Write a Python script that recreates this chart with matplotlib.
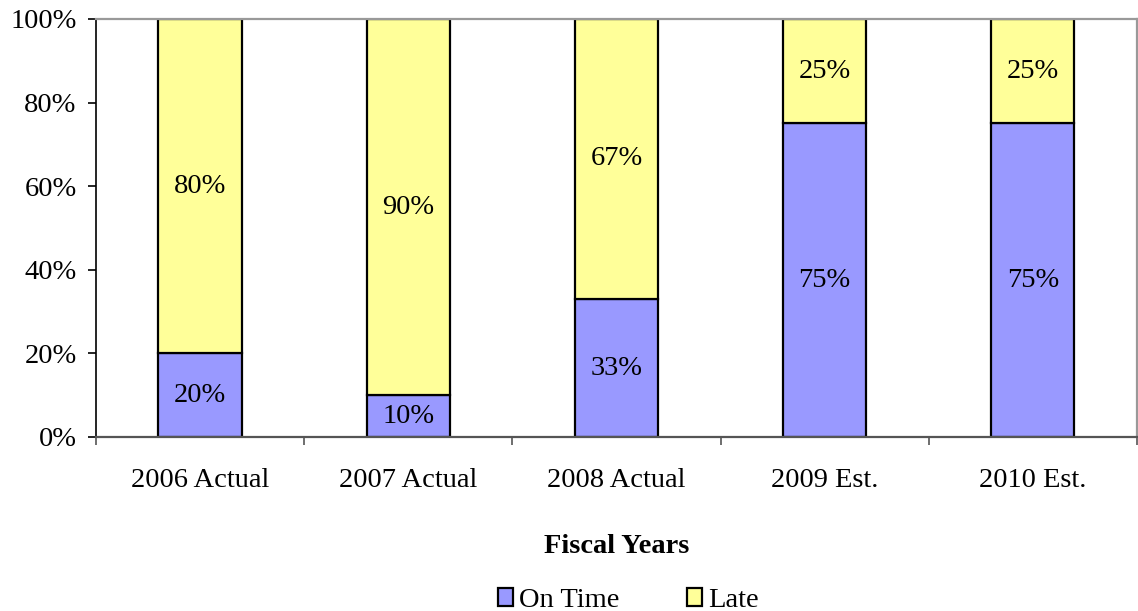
import matplotlib.pyplot as plt
from matplotlib.ticker import FixedLocator, PercentFormatter
import numpy as np

plt.rcParams['font.family'] = ['Liberation Serif', 'DejaVu Serif']

years = ['2006 Actual', '2007 Actual', '2008 Actual', '2009 Est.', '2010 Est.']
on_time = [20, 10, 33, 75, 75]
late = [80, 90, 67, 25, 25]

blue = '#9999FF'
yellow = '#FFFF99'
fs = 20.5

fig = plt.figure(figsize=(11.38, 6.11), dpi=100)
ax = fig.add_axes([0.0844, 0.2848, 0.9146, 0.6842])

x = np.arange(len(years))
w = 0.4
b1 = ax.bar(x, on_time, w, color=blue, edgecolor='black', linewidth=1.6, label='On Time')
b2 = ax.bar(x, late, w, bottom=on_time, color=yellow, edgecolor='black', linewidth=1.6, label='Late')

# value labels centred in each segment
for i in range(len(years)):
    ax.text(x[i], on_time[i] / 2, f'{on_time[i]}%', ha='center', va='center', fontsize=fs)
    ax.text(x[i], on_time[i] + late[i] / 2, f'{late[i]}%', ha='center', va='center', fontsize=fs)

ax.set_xlim(-0.5, len(years) - 0.5)
ax.set_ylim(0, 100)
ax.yaxis.set_major_locator(FixedLocator([0, 20, 40, 60, 80, 100]))
ax.yaxis.set_major_formatter(PercentFormatter(decimals=0))
ax.set_xticks(x)
ax.set_xticklabels(years)
ax.xaxis.set_minor_locator(FixedLocator(np.arange(-0.5, len(years), 1.0)))
ax.tick_params(axis='x', which='major', length=0, pad=22, labelsize=fs)
ax.tick_params(axis='x', which='minor', length=6, width=1.2, color='#555555', direction='out')
ax.tick_params(axis='y', length=6, width=1.2, direction='out', labelsize=fs, pad=8)

ax.spines['left'].set_linewidth(1.2)
ax.spines['bottom'].set_color('#555555')
ax.spines['bottom'].set_linewidth(1.6)
for s in ('top', 'right'):
    ax.spines[s].set_color('#999999')
    ax.spines[s].set_linewidth(1.6)

ax.set_xlabel('Fiscal Years', fontsize=fs, fontweight='bold', labelpad=30)

fig.legend(handles=[b1, b2], loc='center', bbox_to_anchor=(0.552, 0.017), ncol=2,
           frameon=False, fontsize=fs, handlelength=0.55, handleheight=0.55,
           handletextpad=0.2, columnspacing=2.37, borderaxespad=0)

fig.savefig('out.png', dpi=100)
